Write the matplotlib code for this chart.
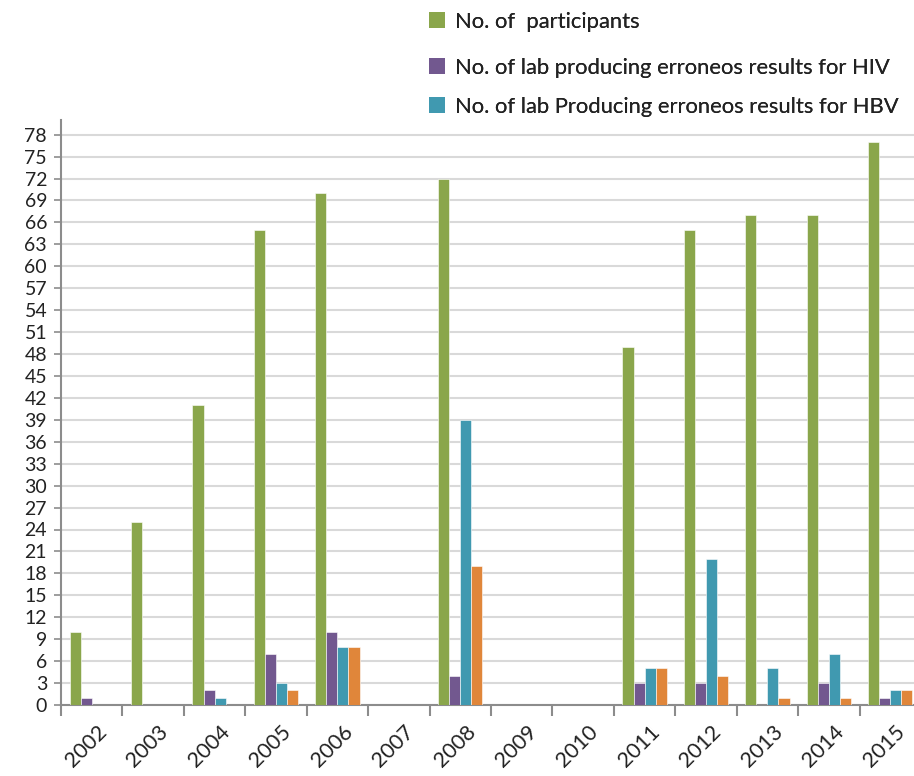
import matplotlib
matplotlib.use("Agg")
import matplotlib.pyplot as plt
import numpy as np
from matplotlib.patches import Patch

years = ["2002", "2003", "2004", "2005", "2006", "2007", "2008", "2009",
         "2010", "2011", "2012", "2013", "2014", "2015"]
participants = [10, 25, 41, 65, 70, 0, 72, 0, 0, 49, 65, 67, 67, 77]
hiv_err = [1, 0, 2, 7, 10, 0, 4, 0, 0, 3, 3, 0, 3, 1]
hbv_err = [0, 0, 1, 3, 8, 0, 39, 0, 0, 5, 20, 5, 7, 2]
hcv_err = [0, 0, 0, 2, 8, 0, 19, 0, 0, 5, 4, 1, 1, 2]
labels = ["No. of  participants",
          "No. of lab producing erroneos results for HIV",
          "No. of lab Producing erroneos results for HBV"]
colors = ["#8AA64B", "#72588F", "#4099B0", "#E0863A"]

plt.rcParams['font.family'] = ['Lato', 'DejaVu Sans']

fig = plt.figure(figsize=(9.14, 7.76), dpi=100)
ax = fig.add_axes([61/914, 1 - 705/776, 860/914, 585/776])

x = np.arange(len(years))
w = 0.18
series = [participants, hiv_err, hbv_err, hcv_err]
for i, (vals, c) in enumerate(zip(series, colors)):
    ax.bar(x + (i - 1.5) * w, vals, width=w, color=c, edgecolor="white",
           linewidth=0.4, zorder=3)

ax.set_xlim(-0.5, len(years) - 0.5)
ax.set_ylim(0, 80)
ax.set_yticks(np.arange(0, 79, 3))
ax.yaxis.grid(True, color="#D9D9D9", linewidth=1.5, zorder=0)
ax.set_axisbelow(True)

ax.set_xticks(x + 0.08)
ax.set_xticklabels(years, rotation=45, ha="right", va="top",
                   rotation_mode="anchor", fontsize=15.5, color="#222222")
ax.tick_params(axis="x", which="major", length=0, pad=12)
ax.set_xticks(np.arange(-0.5, len(years), 1), minor=True)
ax.tick_params(axis="x", which="minor", length=8, width=1.5, color="#8C8C8C")
ax.tick_params(axis="y", length=5, width=1.2, color="#8C8C8C",
               labelsize=14, labelcolor="#222222", pad=5)

for s in ["top", "right"]:
    ax.spines[s].set_visible(False)
for s in ["left", "bottom"]:
    ax.spines[s].set_color("#8C8C8C")
    ax.spines[s].set_linewidth(1.5)

ys = [22, 68, 107]
for lab, c, yy in zip(labels, colors[:3], ys):
    leg = fig.legend(handles=[Patch(facecolor=c, edgecolor="none")], labels=[lab],
                     loc="center left", bbox_to_anchor=(429/914, 1 - yy/776),
                     frameon=False, fontsize=15.8, handlelength=0.75, handleheight=0.75,
                     handletextpad=0.45, borderpad=0, borderaxespad=0)
    for t in leg.get_texts():
        t.set_color("#222222")
    fig.add_artist(leg)

fig.savefig("out.png", dpi=100)
